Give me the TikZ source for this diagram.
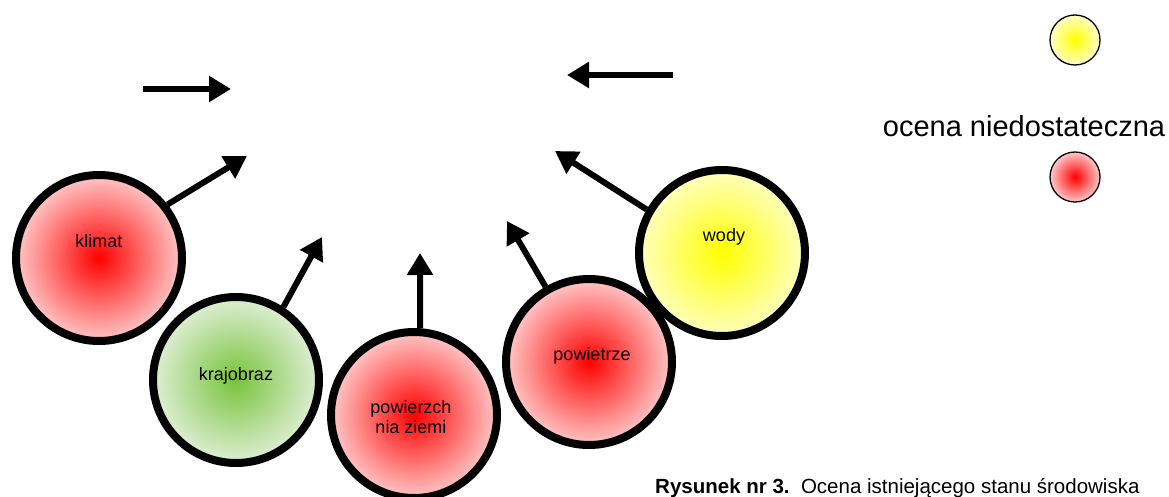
\documentclass[tikz,border=0pt]{standalone}
\usepackage{fontspec}
\setmainfont{Liberation Sans}
\usetikzlibrary{arrows.meta}
\begin{document}
\begin{tikzpicture}[x=1pt,y=-1pt,
  ball/.style={circle,draw=black,line width=8pt,minimum size=166pt,inner sep=0pt},
  redball/.style={ball,inner color=red,outer color=red!22},
  greenball/.style={ball,inner color={rgb,255:red,120;green,195;blue,60},outer color={rgb,255:red,222;green,238;blue,212}},
  yellowball/.style={ball,inner color=yellow,outer color=yellow!25},
  legball/.style={circle,draw=black,line width=1.3pt,minimum size=50pt,inner sep=0pt},
  lbl/.style={font=\fontsize{18}{20}\selectfont,align=center},
  bigarrow/.style={line width=6pt,-{Triangle[length=22pt,width=25pt]}}
]
\useasboundingbox (0,0) rectangle (1169,497);
% circles
\node[redball] (klimat) at (99,258) {};
\node[greenball] (kraj) at (236,380) {};
\node[redball] (pow) at (414,415) {};
\node[redball] (powiet) at (589,362) {};
\node[yellowball] (wody) at (722,253) {};
% labels
\node[lbl] (tk) at (99,241) {klimat};
\node[lbl] (tkr) at (236,376) {krajobraz};
\node[lbl] (tp) at (411,417) {powierzch\\nia ziemi};
\node[lbl] (tpw) at (592,356) {powietrze};
\node[lbl] (tw) at (724,237) {wody};
% arrow targets
\coordinate (a1s) at (143,89);  \coordinate (a1e) at (231,89);
\coordinate (a2s) at (673,75);  \coordinate (a2e) at (567,75);
\coordinate (ak) at (247,156);
\coordinate (akr) at (322,237);
\coordinate (ap) at (420,253);
\coordinate (apw) at (507,221);
\coordinate (aw) at (555,151);
\draw[bigarrow] (klimat.38) -- (ak);
\draw[bigarrow] (a1s) -- (a1e);
\draw[bigarrow] (a2s) -- (a2e);
\draw[bigarrow] (kraj.57) -- (akr);
\draw[bigarrow] (pow.86) -- (ap);
\draw[bigarrow] (powiet.120) -- (apw);
\draw[bigarrow] (wody.150) -- (aw);
% legend
\node[legball,inner color=yellow,outer color=yellow!22] (ly) at (1075,40) {};
\node[font=\fontsize{29}{32}\selectfont] (lt) at (1024,126) {ocena niedostateczna};
\node[legball,inner color=red,outer color=red!22] (lr) at (1075,177) {};
% caption
\node[anchor=base west,font=\fontsize{20.5}{22}\selectfont,inner sep=0pt] (cap) at (655,493) {\textbf{Rysunek nr 3.}\ \ Ocena istniejącego stanu środowiska};
\end{tikzpicture}
\end{document}
